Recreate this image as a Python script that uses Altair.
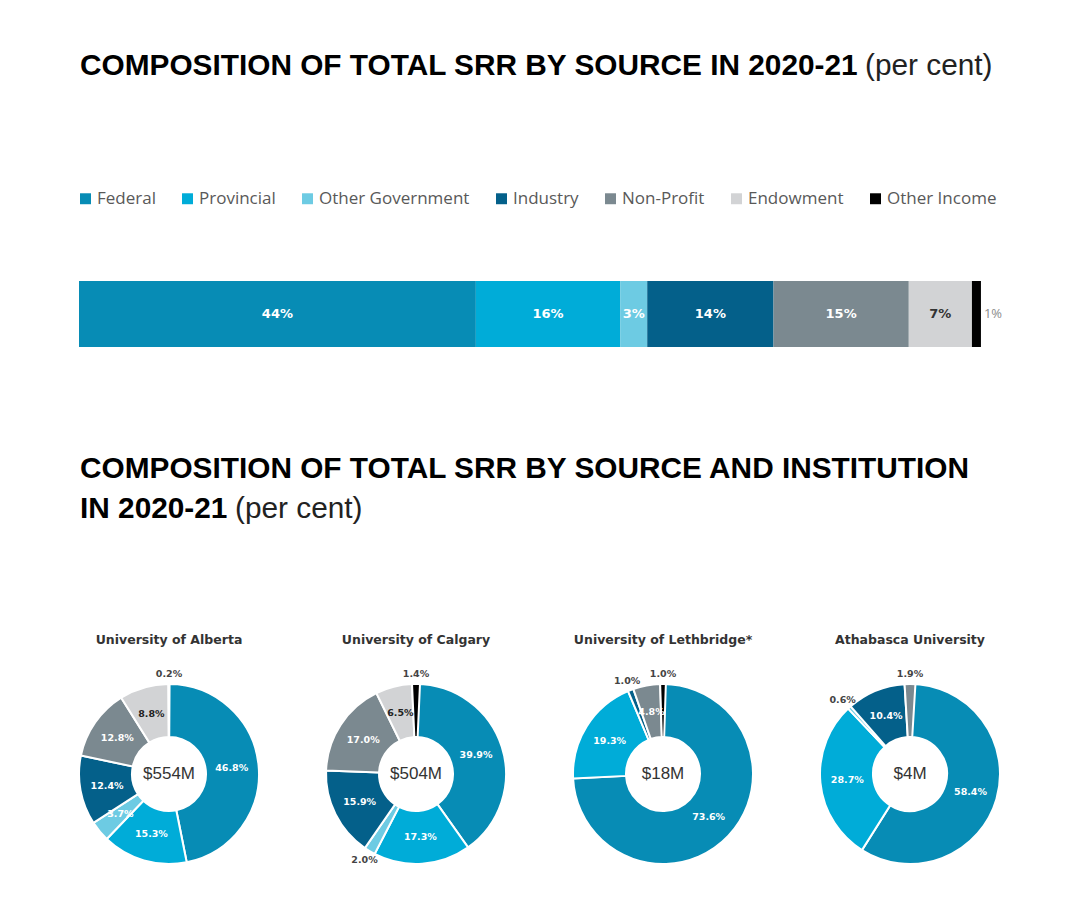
import altair as alt
import pandas as pd

# ---------------- data ----------------
categories = ["Federal", "Provincial", "Other Government", "Industry",
              "Non-Profit", "Endowment", "Other Income"]
colors = ["#078cb5", "#00acd8", "#6dcbe3", "#04608a", "#7b8990", "#d2d3d5", "#000000"]
overall = [44, 16, 3, 14, 15, 7, 1]

institutions = ["University of Alberta", "University of Calgary",
                "University of Lethbridge*", "Athabasca University"]
totals = ["$554M", "$504M", "$18M", "$4M"]
alberta = [46.8, 15.3, 3.7, 12.4, 12.8, 8.8, 0.2]
calgary = [39.9, 17.3, 2.0, 15.9, 17.0, 6.5, 1.4]
lethbridge = [73.6, 19.3, 0.0, 1.0, 4.8, 0.0, 1.0]
athabasca = [58.4, 28.7, 0.6, 10.4, 1.9, 0.0, 0.0]

title1_bold = "COMPOSITION OF TOTAL SRR BY SOURCE IN 2020-21"
title2_line1 = "COMPOSITION OF TOTAL SRR BY SOURCE AND INSTITUTION"
title2_line2_bold = "IN 2020-21"
title_unit = "(per cent)"

# ---------------- shared encodings ----------------
color_enc = alt.Color(
    "cat:N",
    sort=categories,
    scale=alt.Scale(domain=categories, range=colors),
    legend=alt.Legend(
        title=None, orient="none", legendX=-2, legendY=181,
        direction="horizontal", columns=7, columnPadding=23,
        symbolType="square", symbolSize=120, symbolStrokeWidth=0,
        labelFont="Open Sans", labelFontSize=17, labelColor="#595959",
        labelOffset=3, labelLimit=300, padding=0,
    ),
)

TITLE_FONT = "Liberation Sans"
TITLE_SIZE = 29.8


def text_layer(txt, x, y, weight, color):
    return alt.Chart(pd.DataFrame({"t": [txt]})).mark_text(
        align="left", baseline="alphabetic", font=TITLE_FONT,
        fontSize=TITLE_SIZE, fontWeight=weight, color=color,
    ).encode(text="t:N", x=alt.value(x), y=alt.value(y))


def with_stack(chart):
    return chart.transform_window(
        cum="sum(value)", sort=[alt.SortField("idx", order="ascending")],
        frame=[None, 0],
    ).transform_calculate(
        start="datum.cum - datum.value",
        mid="datum.cum - datum.value / 2",
    )


PANEL_W = 929

# Panel A: first title
panel_a = alt.layer(
    text_layer(title1_bold, 1, 66, "bold", "#000000"),
    text_layer(title_unit, 786, 66, 300, "#222222"),
).properties(width=PANEL_W, height=270)

# Panel B: stacked bar
bar_df = pd.DataFrame({
    "cat": categories, "value": overall, "idx": list(range(len(categories))),
    "label": [f"{v}%" for v in overall],
})
xscale = alt.Scale(domain=[0, 103], nice=False, zero=True)
bar_base = with_stack(alt.Chart(bar_df))
bars = bar_base.mark_bar(cornerRadius=0).encode(
    x=alt.X("start:Q", scale=xscale, axis=None),
    x2="cum:Q",
    y=alt.value(0), y2=alt.value("height"),
    color=color_enc,
)
bar_in = bar_base.transform_filter("datum.value >= 3").mark_text(
    font="DejaVu Sans", fontSize=13, fontWeight="bold", baseline="middle",
).encode(
    x=alt.X("mid:Q", scale=xscale, axis=None),
    text="label:N",
    color=alt.condition(alt.datum.cat == "Endowment", alt.value("#333333"), alt.value("#ffffff")),
)
bar_out = bar_base.transform_filter("datum.value < 3").mark_text(
    font="Open Sans", fontSize=13, align="left", dx=3, baseline="middle", color="#8c8c8c",
).encode(
    x=alt.X("cum:Q", scale=xscale, axis=None),
    text="label:N",
)
panel_b = alt.layer(bars, bar_in, bar_out).properties(width=PANEL_W, height=66)

# Panel C: second title
panel_c = alt.layer(
    text_layer(title2_line1, 1, 129, "bold", "#000000"),
    text_layer(title2_line2_bold, 1, 169, "bold", "#000000"),
    text_layer(title_unit, 156, 169, 300, "#222222"),
).properties(width=PANEL_W, height=283)


# Panel D: donuts
def donut(name, vals, total):
    df = pd.DataFrame({
        "cat": categories, "value": vals, "idx": list(range(len(categories))),
        "label": [f"{v:.1f}%" for v in vals],
    })
    df = df[df["value"] > 0]
    tscale = alt.Scale(zero=True, nice=False)
    base = with_stack(alt.Chart(df))
    arc = base.mark_arc(outerRadius=90, innerRadius=37, stroke="#ffffff", strokeWidth=2).encode(
        theta=alt.Theta("start:Q", scale=tscale),
        theta2="cum:Q",
        color=color_enc,
    )
    inner = base.transform_filter("datum.value >= 3").mark_text(
        radius=63, font="DejaVu Sans", fontSize=9.5, fontWeight="bold", baseline="middle",
    ).encode(
        theta=alt.Theta("mid:Q", scale=tscale),
        text="label:N",
        color=alt.condition(alt.datum.cat == "Endowment", alt.value("#222222"), alt.value("#ffffff")),
    )
    outer = base.transform_filter("datum.value < 3").mark_text(
        radius=100, font="DejaVu Sans", fontSize=9.5, fontWeight="bold", baseline="middle",
        color="#444444",
    ).encode(
        theta=alt.Theta("mid:Q", scale=tscale),
        text="label:N",
    )
    center = alt.Chart(pd.DataFrame({"total": [total]})).mark_text(
        font="Liberation Sans", fontSize=17, color="#333333", baseline="middle",
    ).encode(text="total:N")
    return alt.layer(arc, inner, outer, center).properties(
        width=180, height=216,
        title=alt.TitleParams(
            text=name, font="DejaVu Sans", fontSize=12.5, fontWeight="bold",
            color="#333333", anchor="middle", baseline="alphabetic", offset=10,
        ),
    )


donut_values = [alberta, calgary, lethbridge, athabasca]
panel_d = alt.hconcat(
    *[donut(n, v, t) for n, v, t in zip(institutions, donut_values, totals)],
    spacing=59,
)

chart = alt.vconcat(panel_a, panel_b, panel_c, panel_d, spacing=0).properties(
    padding={"left": 67, "top": 0, "right": 0, "bottom": 0},
    background="#ffffff",
).configure_view(stroke="transparent")

chart.save("out.html", embed_options={"renderer": "svg", "actions": False})
